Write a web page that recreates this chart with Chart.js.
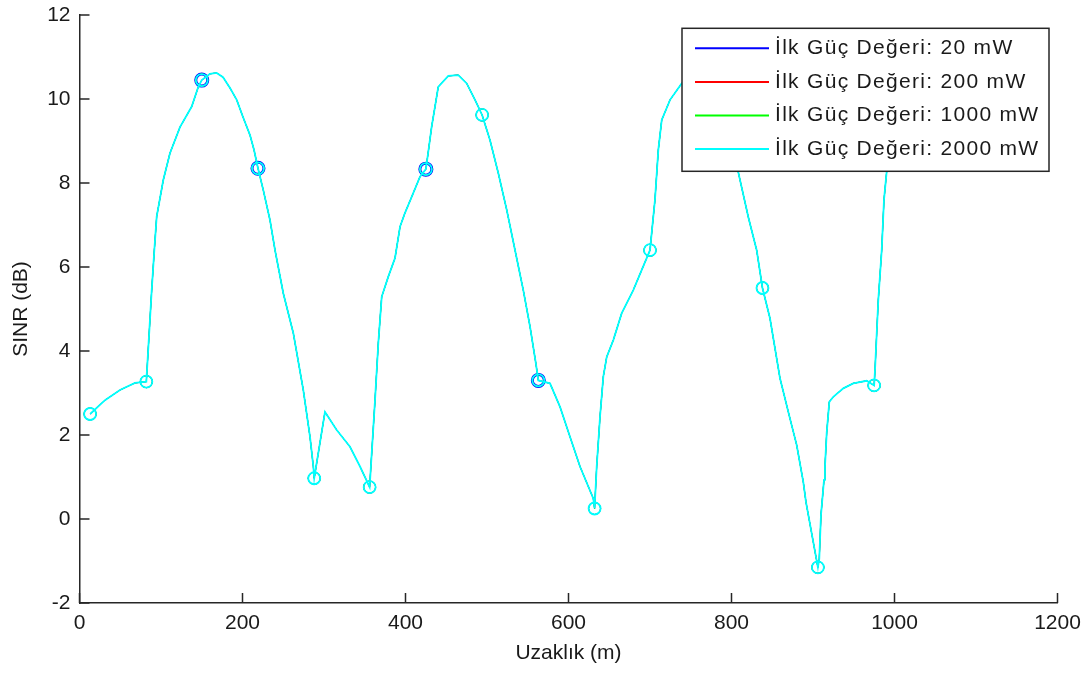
<!DOCTYPE html>
<html lang="tr">
<head>
    <meta charset="UTF-8">
    <title>SINR - Uzaklık</title>
    <script src="https://cdn.jsdelivr.net/npm/chart.js"></script>
    <style>
        body {
            margin: 0;
            background: #fff;
        }
        .chart-box {
            width: 1091px;
            height: 673px;
        }
    </style>
</head>
<body>
    <div class="chart-box">
        <canvas id="sinrChart" width="1091" height="673"></canvas>
    </div>

    <script>
        // Distance (m) and SINR (dB)
        const distance = [13, 31.3, 49.7, 68.1, 82, 88.6, 91.8, 94.7, 102.8, 111,
            123.3, 137.7, 145.8, 150, 160.1, 168.3, 176.1, 184.7, 192.9, 200.6,
            209.2, 214.1, 219, 225.5, 233.7, 239.9, 250.1, 262.3, 274.6, 282.8,
            286.9, 288, 301.2, 315.6, 331.9, 344.2, 356, 357.3, 362.6, 366.6,
            370.8, 378.9, 387.1, 393.3, 399.4, 407.6, 417.8, 425, 428, 432.1,
            436.2, 440.2, 452.5, 464.8, 475.1, 485.3, 494, 503.7, 513.9, 524.2,
            534.4, 544.5, 552.8, 560, 563, 577.3, 589.6, 601.8, 614.1, 630.4,
            632, 634.6, 638.7, 642.7, 646.9, 655, 665.3, 679.5, 700, 706.1,
            710.2, 714.4, 724.6, 738.9, 751.5, 769, 779.8, 792, 800.6, 808.3,
            820.6, 830.9, 838, 847.2, 859.5, 869.7, 880, 888.1, 891.4, 906,
            907.7, 909.8, 913.5, 914.7, 916.8, 920, 924.9, 937.2, 949.4, 965.9,
            975, 976.1, 978.2, 980.1, 984.3, 987.1, 990.4, 994.5, 1000.6];

        const sinr = [2.5, 2.83, 3.07, 3.24, 3.27, 5.45, 6.4, 7.2, 8.07, 8.71,
            9.33, 9.82, 10.29, 10.45, 10.6, 10.62, 10.52, 10.26, 9.98, 9.57,
            9.14, 8.79, 8.35, 7.83, 7.12, 6.4, 5.37, 4.43, 3.07, 1.96,
            1.25, 0.97, 2.55, 2.12, 1.72, 1.25, 0.76, 1.17, 2.83, 4.18,
            5.29, 5.77, 6.21, 6.96, 7.29, 7.67, 8.15, 8.33, 8.75, 9.34,
            9.82, 10.29, 10.55, 10.57, 10.37, 9.98, 9.62, 9.02, 8.23, 7.36,
            6.4, 5.45, 4.58, 3.7, 3.3, 3.23, 2.67, 1.96, 1.25, 0.49,
            0.25, 1.25, 2.44, 3.39, 3.86, 4.26, 4.9, 5.45, 6.4, 7.6,
            8.79, 9.5, 9.98, 10.37, 10.6, 10.65, 10.45, 9.86, 9.14, 8.26,
            7.19, 6.4, 5.5, 4.78, 3.35, 2.55, 1.76, 0.88, 0.4, -1.15,
            -0.95, 0.1, 0.93, 1.25, 2.05, 2.79, 2.91, 3.11, 3.23, 3.29,
            3.18, 3.55, 4.43, 5.21, 6.4, 7.6, 8.27, 9.26, 9.74];

        // distances where a circle marker is drawn
        const markerAt = [13, 82, 150, 219, 288, 356, 425, 494, 563, 632, 700, 769, 838, 906, 975];
        // markers where the blue (20 mW) circle shows round the cyan one
        const blueShowsAt = [150, 219, 425, 563];

        const seriesLabels = [
            'İlk Güç Değeri: 20 mW',
            'İlk Güç Değeri: 200 mW',
            'İlk Güç Değeri: 1000 mW',
            'İlk Güç Değeri: 2000 mW'
        ];
        const seriesColors = ['#0000ff', '#ff0000', '#00ff00', '#00ffff'];

        const xTickValues = [0, 200, 400, 600, 800, 1000, 1200];
        const yTickValues = [-2, 0, 2, 4, 6, 8, 10, 12];

        const axisColor = '#262626';
        const fontFamily = '"Liberation Sans", Arial, Helvetica, sans-serif';

        const points = distance.map((d, i) => ({ x: d, y: sinr[i] }));

        // MATLAB style ticks pointing into the plot
        const inwardTicks = {
            id: 'inwardTicks',
            beforeDatasetsDraw(chart) {
                const { ctx, chartArea: a, scales: { x, y } } = chart;
                ctx.save();
                ctx.strokeStyle = axisColor;
                ctx.lineWidth = 1.5;
                ctx.beginPath();
                xTickValues.forEach(v => {
                    const px = x.getPixelForValue(v);
                    ctx.moveTo(px, a.bottom);
                    ctx.lineTo(px, a.bottom - 10);
                });
                yTickValues.forEach(v => {
                    const py = y.getPixelForValue(v);
                    ctx.moveTo(a.left, py);
                    ctx.lineTo(a.left + 10, py);
                });
                ctx.stroke();
                ctx.restore();
            }
        };

        // boxed legend in the upper right corner of the axes
        const boxLegend = {
            id: 'boxLegend',
            afterDraw(chart) {
                const { ctx, chartArea: a } = chart;
                const w = 367, h = 143;
                const left = a.right - 8.5 - w;
                const top = a.top + 13.3;
                ctx.save();
                ctx.fillStyle = '#fff';
                ctx.fillRect(left, top, w, h);
                ctx.strokeStyle = axisColor;
                ctx.lineWidth = 1.5;
                ctx.strokeRect(left, top, w, h);
                ctx.font = '21px ' + fontFamily;
                if ('letterSpacing' in ctx) ctx.letterSpacing = '1.3px';
                ctx.textBaseline = 'middle';
                seriesLabels.forEach((label, i) => {
                    const cy = top + 20 + i * 33.6;
                    ctx.strokeStyle = seriesColors[i];
                    ctx.lineWidth = 2;
                    ctx.beginPath();
                    ctx.moveTo(left + 13, cy);
                    ctx.lineTo(left + 87, cy);
                    ctx.stroke();
                    ctx.fillStyle = '#1a1a1a';
                    ctx.fillText(label, left + 93, cy);
                });
                ctx.restore();
            }
        };

        function makeDataset(i) {
            const isBlue = i === 0;
            const isTop = i === 3;
            return {
                label: seriesLabels[i],
                data: points,
                borderColor: seriesColors[i],
                // the hidden series are kept thinner so the cyan one covers them
                borderWidth: isTop ? 1.8 : 1,
                pointStyle: 'circle',
                pointBorderColor: seriesColors[i],
                pointBackgroundColor: 'rgba(0,0,0,0)',
                pointRadius: ctx => markerAt.includes(distance[ctx.dataIndex]) ? 6 : 0,
                pointBorderWidth: ctx => (isBlue && blueShowsAt.includes(distance[ctx.dataIndex])) ? 3 : (isTop ? 1.8 : 1),
                tension: 0,
                // cyan on top, blue at the bottom
                order: 3 - i
            };
        }

        const tickFont = { family: fontFamily, size: 21 };

        new Chart(document.getElementById('sinrChart'), {
            type: 'line',
            data: {
                datasets: [0, 1, 2, 3].map(makeDataset)
            },
            options: {
                responsive: false,
                animation: false,
                events: [],
                layout: { padding: { top: 15, right: 33.5, left: 0, bottom: 0 } },
                plugins: {
                    legend: { display: false },
                    tooltip: { enabled: false }
                },
                scales: {
                    x: {
                        type: 'linear',
                        min: 0,
                        max: 1200,
                        afterBuildTicks: s => { s.ticks = xTickValues.map(v => ({ value: v })); },
                        ticks: {
                            color: '#1a1a1a', font: tickFont, padding: 8, maxRotation: 0, autoSkip: false,
                            callback: v => String(v)
                        },
                        grid: { drawOnChartArea: false, drawTicks: false },
                        border: { display: true, color: axisColor, width: 1.5 },
                        title: {
                            display: true,
                            text: 'Uzaklık (m)',
                            color: '#1a1a1a',
                            font: { family: fontFamily, size: 21 },
                            padding: { top: 0, bottom: 7 }
                        },
                        afterFit: s => {
                            s.height = 70;
                            s.paddingLeft = 0;
                            s.paddingRight = 0;
                        }
                    },
                    y: {
                        type: 'linear',
                        min: -2,
                        max: 12,
                        afterBuildTicks: s => { s.ticks = yTickValues.map(v => ({ value: v })); },
                        ticks: { color: '#1a1a1a', font: tickFont, padding: 9, callback: v => String(v) },
                        grid: { drawOnChartArea: false, drawTicks: false },
                        border: { display: true, color: axisColor, width: 1.5 },
                        title: {
                            display: true,
                            text: 'SINR (dB)',
                            color: '#1a1a1a',
                            font: { family: fontFamily, size: 21 },
                            padding: { top: 9, bottom: 0 }
                        },
                        afterFit: s => {
                            s.width = 79.5;
                            s.paddingTop = 0;
                            s.paddingBottom = 0;
                        }
                    }
                }
            },
            plugins: [inwardTicks, boxLegend]
        });
    </script>
</body>
</html>
